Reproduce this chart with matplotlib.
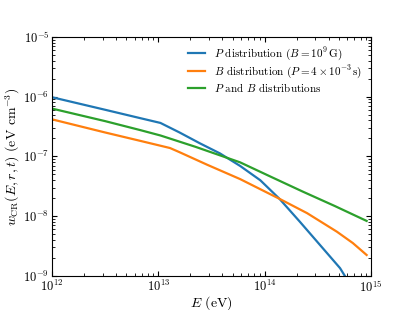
import numpy as np
import matplotlib
matplotlib.use("Agg")
import matplotlib.pyplot as plt

plt.rcParams["font.family"] = "serif"
plt.rcParams["font.serif"] = ["cmr10"]
plt.rcParams["mathtext.fontset"] = "cm"
plt.rcParams["axes.unicode_minus"] = False
plt.rcParams["axes.formatter.use_mathtext"] = True

# values (log10 E in eV, log10 w in eV cm^-3)
logE_P = [12.0, 12.5, 12.83, 13.02, 13.2, 13.39, 13.58, 13.77, 13.96, 14.14, 14.33, 14.52, 14.71, 14.755]
logw_P = [-6.01, -6.22, -6.36, -6.44, -6.60, -6.78, -6.95, -7.16, -7.40, -7.71, -8.09, -8.48, -8.87, -9.0]

logE_B = [12.0, 12.5, 12.83, 13.11, 13.2, 13.46, 13.77, 14.14, 14.4, 14.68, 14.83, 14.96]
logw_B = [-6.38, -6.60, -6.74, -6.86, -6.93, -7.14, -7.38, -7.71, -7.95, -8.26, -8.45, -8.65]

logE_PB = [12.0, 12.5, 12.83, 13.02, 13.35, 13.77, 14.07, 14.36, 14.66, 14.96]
logw_PB = [-6.20, -6.41, -6.56, -6.65, -6.84, -7.10, -7.35, -7.59, -7.83, -8.08]

labels = [
    r"$P$ distribution ($B=10^9\,$G)",
    r"$B$ distribution ($P=4\times10^{-3}\,$s)",
    r"$P$ and $B$ distributions",
]

fig = plt.figure(figsize=(4.13, 3.10), dpi=100)
ax = fig.add_axes([0.126, 0.110, 0.772, 0.771])

for lx, ly, lab in ((logE_P, logw_P, labels[0]),
                    (logE_B, logw_B, labels[1]),
                    (logE_PB, logw_PB, labels[2])):
    ax.plot(10 ** np.array(lx), 10 ** np.array(ly), lw=1.6, label=lab)

ax.set_xscale("log")
ax.set_yscale("log")
ax.set_xlim(1e12, 1e15)
ax.set_ylim(1e-9, 1e-5)
ax.tick_params(which="both", direction="in", top=True, right=True, labelsize=9, pad=2)
ax.set_xlabel(r"$E$ (eV)", fontsize=10, labelpad=0)
ax.set_ylabel(r"$w_{\rm CR}(E,r,t)$ (eV cm$^{-3}$)", fontsize=10, labelpad=0.5)
ax.legend(loc="upper right", frameon=False, fontsize=8, handlelength=1.6,
          labelspacing=0.1, borderaxespad=0.35)

fig.savefig("out.png", dpi=100)
